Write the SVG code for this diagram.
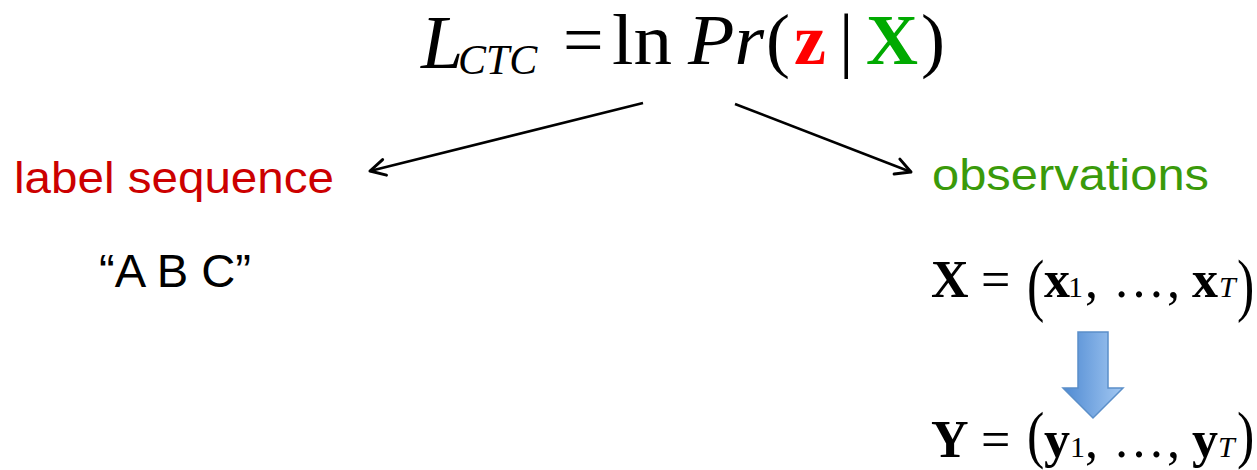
<svg xmlns="http://www.w3.org/2000/svg" width="1257" height="470" viewBox="0 0 1257 470">
<style>
.m{font-family:"Liberation Serif","Times New Roman",serif;fill:#000}
.i{font-style:italic}
.b{font-weight:bold}
.f{font-size:72px}
.e{font-size:52px}
.sub{font-size:30px}
.s{font-family:"Liberation Sans",Arial,sans-serif}
.conn{stroke:#000;stroke-width:2.5;fill:none}
</style>
<defs>
<marker id="ah" markerWidth="20" markerHeight="20" refX="17" refY="10" orient="auto" markerUnits="userSpaceOnUse">
<path d="M2,2 L17,10 L2,18" fill="none" stroke="#000" stroke-width="3" stroke-linecap="round" stroke-linejoin="round"/>
</marker>
<linearGradient id="bg" x1="0" y1="0" x2="1" y2="0">
<stop offset="0" stop-color="#4f8ad2"/>
<stop offset="1" stop-color="#a3c8f2"/>
</linearGradient>
</defs>
<g id="formula">
<text class="m i" x="421" y="68" font-size="76">L</text>
<text class="m i" x="458" y="74" font-size="42">CTC</text>
<text class="m f" x="563" y="64">=</text>
<text class="m f" x="612" y="64" textLength="60" lengthAdjust="spacingAndGlyphs">ln</text>
<text class="m i f" x="688" y="64" textLength="76" lengthAdjust="spacingAndGlyphs">Pr</text>
<text class="m f" x="766" y="64">(</text>
<text class="m b f" x="794" y="64" style="fill:#ff0000">z</text>
<text class="m f" x="839" y="64">|</text>
<text class="m b f" x="866" y="64" style="fill:#00aa00">X</text>
<text class="m f" x="921" y="64">)</text>
</g>
<g id="label-sequence">
<text class="s" x="14" y="193" font-size="44" fill="#cc0000" textLength="320" lengthAdjust="spacingAndGlyphs">label sequence</text>
</g>
<g id="abc">
<text class="s" x="99" y="287" font-size="46" fill="#000" textLength="152" lengthAdjust="spacingAndGlyphs">“A B C”</text>
</g>
<g id="observations">
<text class="s" x="932" y="190" font-size="44" fill="#3a9a0a" textLength="277" lengthAdjust="spacingAndGlyphs">observations</text>
</g>
<g id="x-seq">
<text class="m b e" x="931" y="297">X</text>
<text class="m e" x="981" y="297">=</text>
<text class="m e" transform="translate(1027,308) scale(1,1.36)">(</text>
<text class="m b e" x="1044" y="297">x</text>
<text class="m sub" x="1068" y="297">1</text>
<text class="m e" x="1085" y="297">,</text>
<text class="m e" x="1113" y="297">…</text>
<text class="m e" x="1167" y="297">,</text>
<text class="m b e" x="1192" y="297">x</text>
<text class="m i sub" x="1219" y="297">T</text>
<text class="m e" transform="translate(1237,308) scale(1,1.36)">)</text>
</g>
<g id="blue-arrow">
<path d="M1078,332 L1108,332 L1108,388 L1123,388 L1093,418 L1063,388 L1078,388 Z" fill="url(#bg)" stroke="#5b8fc9" stroke-width="1.5"/>
</g>
<g id="y-seq">
<text class="m b e" x="931" y="457">Y</text>
<text class="m e" x="981" y="457">=</text>
<text class="m e" transform="translate(1027,456) scale(1,1.2)">(</text>
<text class="m b e" x="1044" y="457">y</text>
<text class="m sub" x="1070" y="457">1</text>
<text class="m e" x="1085" y="457">,</text>
<text class="m e" x="1113" y="457">…</text>
<text class="m e" x="1167" y="457">,</text>
<text class="m b e" x="1192" y="457">y</text>
<text class="m i sub" x="1218" y="457">T</text>
<text class="m e" transform="translate(1237,456) scale(1,1.2)">)</text>
</g>
<g id="connectors">
<line class="conn" x1="643" y1="103" x2="370" y2="171" marker-end="url(#ah)"/>
<line class="conn" x1="735" y1="104" x2="911" y2="172" marker-end="url(#ah)"/>
</g>
</svg>
